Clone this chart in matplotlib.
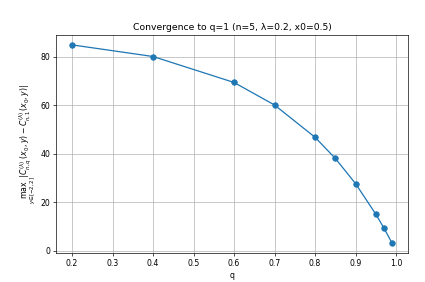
import numpy as np
import matplotlib.pyplot as plt

q = [0.2, 0.4, 0.6, 0.7, 0.8, 0.85, 0.9, 0.95, 0.97, 0.99]
err = [84.8, 80.0, 69.3, 60.0, 46.7, 38.0, 27.6, 15.0, 9.3, 3.1]

plt.rcParams['font.size'] = 9.15
fig, ax = plt.subplots(figsize=(7, 7*282/425), dpi=425/7)
ax.plot(q, err, marker='o', color='tab:blue', markersize=6.5)
ax.set_title('Convergence to q=1 (n=5, λ=0.2, x0=0.5)')
ax.set_xlabel('q')
ax.set_ylabel(r'$\max_{y\in[-2,2]} |C^{(\lambda)}_{n,q}(x_0,y) - C^{(\lambda)}_{n,1}(x_0,y)|$')
ax.set_yticks([0, 20, 40, 60, 80])
ax.grid(True)
fig.subplots_adjust(left=0.132, right=0.96, top=0.876, bottom=0.103)
fig.savefig('out.png')
